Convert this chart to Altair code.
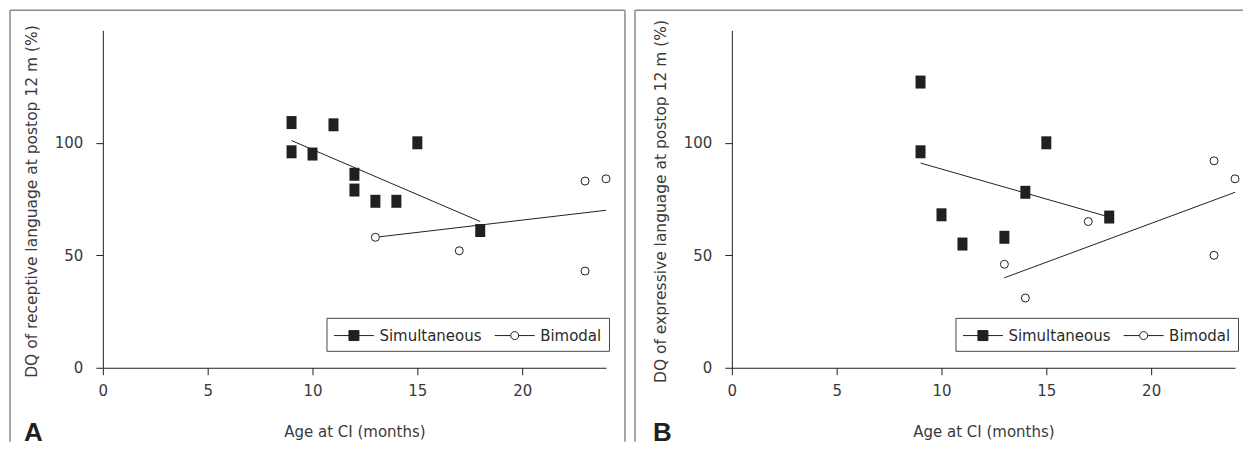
import altair as alt
import pandas as pd

# ---------------- data ----------------
x_domain = [0, 24]
y_domain = [0, 150]
x_ticks = [0, 5, 10, 15, 20]
y_ticks = [0, 50, 100]
groups = ["Simultaneous", "Bimodal"]
x_title = "Age at CI (months)"

# Panel A: receptive language
a_title = "DQ of receptive language at postop 12 m (%)"
a_sim_age = [9, 9, 10, 11, 12, 12, 13, 14, 15, 18]
a_sim_dq = [109, 96, 95, 108, 86, 79, 74, 74, 100, 61]
a_bim_age = [13, 17, 23, 23, 24]
a_bim_dq = [58, 52, 83, 43, 84]
a_sim_fit_age = [9, 18]
a_sim_fit_dq = [101, 65]
a_bim_fit_age = [13, 24]
a_bim_fit_dq = [58, 70]

# Panel B: expressive language
b_title = "DQ of expressive language at postop 12 m (%)"
b_sim_age = [9, 9, 10, 11, 13, 14, 15, 18]
b_sim_dq = [127, 96, 68, 55, 58, 78, 100, 67]
b_bim_age = [13, 14, 17, 23, 23, 24]
b_bim_dq = [46, 31, 65, 92, 50, 84]
b_sim_fit_age = [9, 18]
b_sim_fit_dq = [91, 67]
b_bim_fit_age = [13, 24]
b_bim_fit_dq = [40, 78]

# ---------------- style ----------------
W, H = 504, 338
FONT = "DejaVu Sans"
INK = "#231f20"
TXT = "#3a3a3a"
FRAME = "#8a8a8a"

RECT = "M-0.77,-1H0.77V1H-0.77Z"
# legend symbols: nominal box [-1,1] (20px), drawn line runs to +3 (40px total)
LEG_SQ = "M-1,0H3M0.5,-0.5H1.5V0.5H0.5Z"
LEG_CI = "M-1,0H0.6M1.4,0H3M0.6,0A0.4,0.4,0,1,1,1.4,0A0.4,0.4,0,1,1,0.6,0Z"


def enc_x():
    return alt.X(
        "age:Q",
        scale=alt.Scale(domain=x_domain, nice=False, zero=False),
        axis=alt.Axis(
            values=x_ticks, title=x_title, grid=False,
            domainColor=INK, tickColor=INK, tickSize=7, labelPadding=9,
            labelFont=FONT, labelFontSize=15, labelColor=TXT, labelFlush=False,
            titleFont=FONT, titleFontSize=15, titleFontWeight="normal", titleColor=TXT,
            titleX=W / 2, titleY=64, titleBaseline="middle", titleAlign="center",
        ),
    )


def enc_y(title):
    return alt.Y(
        "dq:Q",
        scale=alt.Scale(domain=y_domain, nice=False),
        axis=alt.Axis(
            values=y_ticks, title=title, grid=False,
            domainColor=INK, tickColor=INK, tickSize=7, labelPadding=13,
            labelFont=FONT, labelFontSize=15, labelColor=TXT,
            titleFont=FONT, titleFontSize=15.5, titleFontWeight="normal", titleColor=TXT,
            titleX=-71, titleY=H / 2 + 2, titleBaseline="middle", titleAlign="center",
            titleAngle=270,
        ),
    )


def panel(letter, ytitle, sim_age, sim_dq, bim_age, bim_dq,
          sfa, sfd, bfa, bfd, left_edge, right_edge, right_border):
    one = pd.DataFrame({"k": [0]})
    top, bottom = -20, 412
    frame_layers = [
        alt.Chart(one).mark_rule(color=FRAME, strokeWidth=1.5).encode(
            x=alt.value(left_edge), x2=alt.value(right_edge), y=alt.value(top)),
        alt.Chart(one).mark_rule(color=FRAME, strokeWidth=1.5).encode(
            x=alt.value(left_edge), y=alt.value(top), y2=alt.value(bottom)),
    ]
    if right_border:
        frame_layers.append(
            alt.Chart(one).mark_rule(color=FRAME, strokeWidth=1.5).encode(
                x=alt.value(right_edge), y=alt.value(top), y2=alt.value(bottom)))

    sim_fit = alt.Chart(pd.DataFrame({"age": sfa, "dq": sfd})).mark_line(
        color=INK, strokeWidth=1).encode(x=enc_x(), y=enc_y(ytitle))
    bim_fit = alt.Chart(pd.DataFrame({"age": bfa, "dq": bfd})).mark_line(
        color=INK, strokeWidth=1).encode(x=enc_x(), y=enc_y(ytitle))

    sim_pts = alt.Chart(pd.DataFrame({"age": sim_age, "dq": sim_dq})).mark_point(
        shape=RECT, filled=True, color=INK, size=169, opacity=1
    ).encode(x=enc_x(), y=enc_y(ytitle))
    bim_pts = alt.Chart(pd.DataFrame({"age": bim_age, "dq": bim_dq})).mark_point(
        shape="circle", filled=True, fill="white", stroke=INK, strokeWidth=1,
        size=64, opacity=1
    ).encode(x=enc_x(), y=enc_y(ytitle))

    leg = alt.Legend(
        title=None, orient="none", legendX=224, legendY=288, direction="horizontal",
        symbolSize=400, symbolStrokeWidth=1, symbolStrokeColor=INK, symbolOpacity=1,
        labelFont=FONT, labelFontSize=15, labelColor="#2a2a2a", labelOffset=25,
        columnPadding=10, padding=7, strokeColor="#444", fillColor="white",
    )
    legend_layer = alt.Chart(pd.DataFrame({"group": groups})).mark_point(
        opacity=0, filled=True, strokeWidth=1
    ).encode(
        x=alt.value(W / 2), y=alt.value(H / 2),
        shape=alt.Shape("group:N", scale=alt.Scale(domain=groups, range=[LEG_SQ, LEG_CI]), legend=leg),
        fill=alt.Fill("group:N", scale=alt.Scale(domain=groups, range=[INK, "#ffffff"]), legend=leg),
        stroke=alt.Stroke("group:N", scale=alt.Scale(domain=groups, range=[INK, INK]), legend=leg),
    )

    letter_layer = alt.Chart(pd.DataFrame({"t": [letter]})).mark_text(
        font="Liberation Sans", fontSize=26, fontWeight="bold", color=INK,
        align="left", baseline="alphabetic"
    ).encode(x=alt.value(-79), y=alt.value(411), text="t:N")

    return alt.layer(*frame_layers, sim_fit, bim_fit, sim_pts, bim_pts,
                     legend_layer, letter_layer).properties(width=W, height=H)


pa = panel("A", a_title, a_sim_age, a_sim_dq, a_bim_age, a_bim_dq,
           a_sim_fit_age, a_sim_fit_dq, a_bim_fit_age, a_bim_fit_dq, -93, W + 19, True)
pb = panel("B", b_title, b_sim_age, b_sim_dq, b_bim_age, b_bim_dq,
           b_sim_fit_age, b_sim_fit_dq, b_bim_fit_age, b_bim_fit_dq, -97, W + 8, False)

chart = alt.hconcat(pa, pb, spacing=6).resolve_scale(
    shape="independent", fill="independent", stroke="independent"
).properties(padding=0, background="white").configure_view(stroke="transparent")

chart.save("out.html", embed_options={"renderer": "svg", "actions": False})
